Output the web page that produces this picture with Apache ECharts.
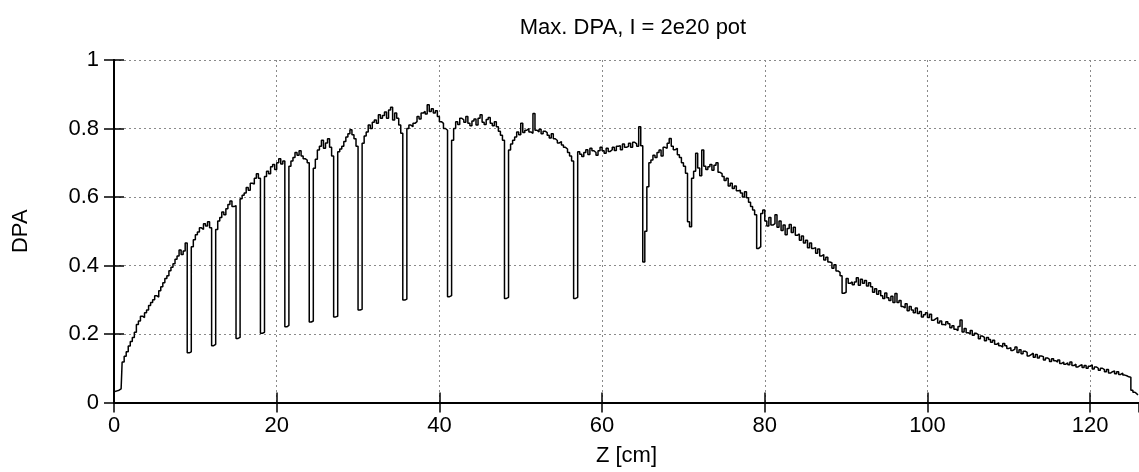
<!DOCTYPE html>
<html>
<head>
<meta charset="utf-8">
<script src="https://cdn.jsdelivr.net/npm/echarts@6/dist/echarts.min.js"></script>
<style>
html,body{margin:0;padding:0;background:#fff;}
#chart{width:1139px;height:472px;}
</style>
</head>
<body>
<div id="chart"></div>
<script>
// Max. DPA per 0.25 cm bin along Z (bins start at Z = 0)
var binWidth = 0.25;
var dpa = [
  0.032,0.034,0.036,0.040, 0.118,0.135,0.148,0.165, 0.178,0.190,0.205,0.228, 0.238,0.252,0.248,0.262,
  0.270,0.283,0.292,0.300, 0.312,0.308,0.326,0.338, 0.350,0.362,0.370,0.385, 0.395,0.405,0.418,0.428,
  0.445,0.432,0.442,0.466, 0.145,0.148,0.455,0.475, 0.490,0.498,0.510,0.505, 0.522,0.515,0.528,0.510,
  0.166,0.170,0.505,0.530, 0.540,0.556,0.548,0.566, 0.578,0.588,0.572,0.575, 0.187,0.190,0.595,0.605,
  0.612,0.628,0.620,0.640, 0.638,0.655,0.668,0.655, 0.202,0.205,0.660,0.675, 0.668,0.688,0.695,0.680,
  0.700,0.712,0.696,0.705, 0.221,0.225,0.690,0.705, 0.715,0.730,0.722,0.735, 0.720,0.712,0.708,0.700,
  0.235,0.238,0.684,0.710, 0.737,0.748,0.766,0.742, 0.758,0.770,0.745,0.720, 0.250,0.252,0.732,0.740,
  0.748,0.762,0.775,0.785, 0.796,0.782,0.770,0.748, 0.270,0.272,0.757,0.778, 0.790,0.810,0.800,0.818,
  0.825,0.815,0.840,0.830, 0.838,0.848,0.830,0.854, 0.862,0.825,0.845,0.830, 0.810,0.786,0.299,0.302,
  0.800,0.810,0.805,0.815, 0.820,0.835,0.828,0.845, 0.850,0.842,0.869,0.850, 0.858,0.845,0.852,0.835,
  0.820,0.815,0.800,0.795, 0.309,0.312,0.766,0.800, 0.820,0.812,0.830,0.825, 0.818,0.835,0.815,0.808,
  0.822,0.828,0.810,0.830, 0.840,0.818,0.812,0.826, 0.832,0.815,0.808,0.820, 0.805,0.792,0.780,0.766,
  0.304,0.307,0.737,0.755, 0.766,0.775,0.790,0.782, 0.815,0.788,0.795,0.800, 0.790,0.786,0.844,0.795,
  0.790,0.798,0.785,0.792, 0.788,0.780,0.772,0.785, 0.770,0.765,0.758,0.762, 0.752,0.745,0.740,0.730,
  0.720,0.705,0.304,0.307, 0.732,0.725,0.718,0.730, 0.738,0.724,0.742,0.735, 0.730,0.722,0.735,0.745,
  0.735,0.728,0.742,0.733, 0.738,0.745,0.736,0.748, 0.750,0.738,0.755,0.745, 0.748,0.757,0.745,0.760,
  0.755,0.748,0.805,0.750, 0.410,0.500,0.630,0.700, 0.708,0.722,0.715,0.730, 0.737,0.720,0.745,0.742,
  0.757,0.771,0.748,0.738, 0.742,0.723,0.715,0.700, 0.690,0.669,0.528,0.513, 0.655,0.675,0.728,0.685,
  0.662,0.737,0.690,0.680, 0.688,0.695,0.678,0.693, 0.700,0.672,0.668,0.660, 0.648,0.655,0.632,0.640,
  0.625,0.632,0.618,0.620, 0.612,0.600,0.615,0.598, 0.585,0.572,0.562,0.548, 0.450,0.455,0.552,0.562,
  0.530,0.515,0.540,0.518, 0.522,0.548,0.512,0.530, 0.502,0.518,0.490,0.508, 0.520,0.496,0.512,0.488,
  0.492,0.474,0.486,0.466, 0.474,0.452,0.466,0.450, 0.452,0.436,0.448,0.428, 0.432,0.416,0.424,0.410,
  0.408,0.392,0.402,0.384, 0.380,0.370,0.319,0.322, 0.362,0.348,0.352,0.344, 0.352,0.364,0.342,0.360,
  0.348,0.356,0.340,0.350, 0.338,0.322,0.332,0.316, 0.326,0.312,0.304,0.320, 0.306,0.298,0.310,0.292,
  0.318,0.292,0.298,0.280, 0.276,0.288,0.268,0.280, 0.270,0.262,0.276,0.260, 0.266,0.250,0.256,0.262,
  0.248,0.258,0.240,0.244, 0.248,0.232,0.238,0.228, 0.226,0.236,0.230,0.218, 0.224,0.214,0.210,0.222,
  0.241,0.206,0.216,0.204, 0.200,0.210,0.196,0.202, 0.198,0.186,0.194,0.190, 0.180,0.190,0.184,0.176,
  0.182,0.170,0.174,0.166, 0.162,0.172,0.166,0.158, 0.160,0.152,0.156,0.162, 0.146,0.154,0.142,0.150,
  0.146,0.136,0.140,0.144, 0.132,0.140,0.130,0.136, 0.134,0.124,0.130,0.126, 0.120,0.128,0.122,0.118,
  0.124,0.114,0.118,0.112, 0.116,0.110,0.118,0.108, 0.112,0.104,0.108,0.110, 0.102,0.108,0.100,0.106,
  0.110,0.098,0.104,0.100, 0.094,0.100,0.096,0.090, 0.096,0.086,0.090,0.092, 0.084,0.090,0.082,0.086,
  0.080,0.078,0.075,0.074, 0.036,0.030,0.025,0.022
];
var xRange = [0, 126];
var xTickStep = 20;
var yRange = [0, 1];
var yTickStep = 0.2;
var titleText = 'Max. DPA, I = 2e20 pot';
var xName = 'Z [cm]';
var yName = 'DPA';

var FONT = '"Liberation Sans", Arial, Helvetica, sans-serif';
var FS = 22;
var seriesData = dpa.map(function (v, i) { return [(i + 0.5) * binWidth, v]; });

var chart = echarts.init(document.getElementById('chart'), null, {renderer: 'canvas'});
var gridDash = {color: '#8a8a8a', width: 1, type: [2, 3]};
var tickStyle = {color: '#000', width: 1.5};
chart.setOption({
  animation: false,
  backgroundColor: '#fff',
  title: {
    text: titleText, left: 628, top: 12, textAlign: 'center',
    textStyle: {fontFamily: FONT, fontSize: FS, fontWeight: 'normal', color: '#000'}
  },
  grid: {left: 114, top: 60, width: 1027, height: 342.5, containLabel: false},
  xAxis: [{
    type: 'value', min: xRange[0], max: xRange[1], interval: xTickStep, position: 'bottom',
    name: xName, nameLocation: 'middle', nameGap: 42,
    nameTextStyle: {fontFamily: FONT, fontSize: FS, color: '#000'},
    axisLine: {show: true, lineStyle: {color: '#000', width: 2}},
    axisTick: {show: true, inside: true, length: 10, lineStyle: tickStyle},
    axisLabel: {fontFamily: FONT, fontSize: FS, color: '#000', margin: 12, showMaxLabel: false},
    splitLine: {show: true, lineStyle: gridDash}
  }, {
    type: 'value', min: xRange[0], max: xRange[1], interval: xTickStep, position: 'top',
    axisLine: {show: true, lineStyle: {color: '#000', width: 2}},
    axisTick: {show: true, inside: true, length: 10, lineStyle: tickStyle},
    axisLabel: {show: false}, splitLine: {show: false}
  }],
  yAxis: [{
    type: 'value', min: yRange[0], max: yRange[1], interval: yTickStep, position: 'left',
    name: yName, nameLocation: 'middle', nameGap: 82, nameRotate: 90,
    nameTextStyle: {fontFamily: FONT, fontSize: FS, color: '#000'},
    axisLine: {show: true, lineStyle: {color: '#000', width: 2}},
    axisTick: {show: true, inside: true, length: 10, lineStyle: tickStyle},
    axisLabel: {fontFamily: FONT, fontSize: FS, color: '#000', margin: 15},
    splitLine: {show: true, lineStyle: gridDash}
  }, {
    type: 'value', min: yRange[0], max: yRange[1], interval: yTickStep, position: 'right',
    axisLine: {show: true, lineStyle: {color: '#000', width: 2}},
    axisTick: {show: true, inside: true, length: 10, lineStyle: tickStyle},
    axisLabel: {show: false}, splitLine: {show: false}
  }],
  series: [{
    type: 'line', step: 'middle', data: seriesData, xAxisIndex: 0, yAxisIndex: 0,
    showSymbol: false, symbol: 'none', clip: true,
    lineStyle: {color: '#000', width: 1.5}
  }]
});
</script>
</body>
</html>
